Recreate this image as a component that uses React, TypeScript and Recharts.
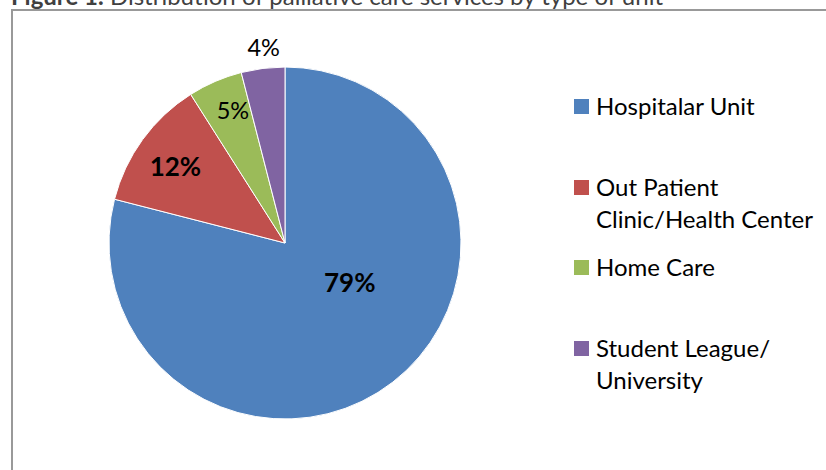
import React from 'react';
import { PieChart, Pie, Cell, Legend } from 'recharts';

const categories = [
  'Hospitalar Unit',
  'Out Patient Clinic/Health Center',
  'Home Care',
  'Student League/ University',
];
const legendLines = [
  ['Hospitalar Unit'],
  ['Out Patient', 'Clinic/Health Center'],
  ['Home Care'],
  ['Student League/', 'University'],
];
const values = [79, 12, 5, 4];
const colors = ['#4F81BD', '#C0504D', '#9BBB59', '#8064A2'];
const titleBold = 'Figure 1.';
const titleRest = ' Distribution of palliative care services by type of unit';

const data = categories.map((name, i) => ({ name, value: values[i] }));

// label layout (style): radius factor, angle offset (deg), bold, size
const labelLayout = [
  { rf: 0.43, da: 21, bold: true, size: 26 },
  { rf: 0.76, da: 1, bold: true, size: 26 },
  { rf: 0.81, da: -2, bold: false, size: 23.5 },
  { rf: 1.12, da: -1, bold: false, size: 23.5 },
];
const legendGaps = [0, 49, 16, 49];

const FONT = 'Lato, "Open Sans", sans-serif';
const RADIAN = Math.PI / 180;

const renderLabel = (props: any) => {
  const { cx, cy, midAngle, outerRadius, index, value } = props;
  const L = labelLayout[index];
  const a = (midAngle + L.da) * RADIAN;
  const r = outerRadius * L.rf;
  const x = cx + r * Math.cos(-a);
  const y = cy + r * Math.sin(-a);
  return (
    <text
      x={x}
      y={y}
      textAnchor="middle"
      dominantBaseline="central"
      fill="#000"
      fontFamily={FONT}
      fontSize={L.size}
      fontWeight={L.bold ? 700 : 400}
    >
      {`${value}%`}
    </text>
  );
};

const renderLegend = () => (
  <div style={{ fontFamily: FONT, fontSize: 24, color: '#000' }}>
    {legendLines.map((lines, i) => (
      <div key={i} style={{ display: 'flex', alignItems: 'flex-start', marginTop: legendGaps[i] }}>
        <div style={{ width: 15, height: 15, background: colors[i], marginTop: 9, marginRight: 7, flex: 'none' }} />
        <div style={{ lineHeight: '32px' }}>
          {lines.map((t, j) => (
            <div key={j} style={{ whiteSpace: 'nowrap' }}>{t}</div>
          ))}
        </div>
      </div>
    ))}
  </div>
);

export default function App() {
  return (
    <div style={{ position: 'fixed', left: 0, top: 0, width: 826, height: 470, overflow: 'hidden', background: '#fff' }}>
      <svg width={826} height={20} style={{ position: 'absolute', left: 0, top: 0 }}>
        <text x={11} y={5} fontFamily={FONT} fontSize={24} fill="#404040">
          <tspan fontWeight={700}>{titleBold}</tspan>
          <tspan>{titleRest}</tspan>
        </text>
      </svg>
      <div style={{ position: 'absolute', left: 11, top: 9, width: 815, height: 2, background: '#999' }} />
      <div style={{ position: 'absolute', left: 11, top: 9, width: 2, height: 461, background: '#999' }} />
      <div style={{ position: 'absolute', left: 0, top: 0 }}>
        <PieChart width={826} height={470} margin={{ top: 0, right: 0, bottom: 0, left: 0 }}>
          <Pie
            data={data}
            dataKey="value"
            nameKey="name"
            cx={285}
            cy={243}
            outerRadius={176}
            startAngle={90}
            endAngle={-270}
            stroke="#fff"
            strokeWidth={1}
            label={renderLabel}
            labelLine={false}
            isAnimationActive={false}
          >
            {data.map((d, i) => (
              <Cell key={d.name} fill={colors[i]} />
            ))}
          </Pie>
          <Legend
            content={renderLegend}
            layout="vertical"
            wrapperStyle={{ position: 'absolute', left: 574, top: 90, width: 250 }}
          />
        </PieChart>
      </div>
    </div>
  );
}
